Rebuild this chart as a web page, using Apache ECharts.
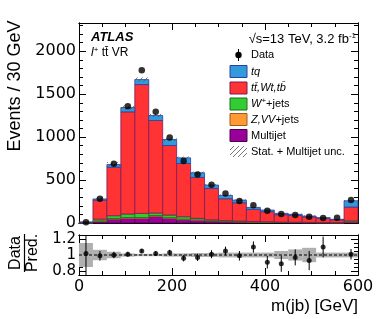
<!DOCTYPE html>
<html><head><meta charset="utf-8">
<script src="https://cdn.jsdelivr.net/npm/echarts@6/dist/echarts.min.js"></script>
<style>html,body{margin:0;padding:0;background:#fff}#c{width:378px;height:319px}</style>
</head><body><div id="c"></div>
<script>
// ---- data ----
const binEdges = [0,30,60,90,120,150,180,210,240,270,300,330,360,390,420,450,480,510,540,570,600];
const multijet = [2,20,45,54,54,77,54,38,31,23,15,12,10,8,6,5,4,3,2,12];
const zvvJets  = [0,5,8,10,10,10,8,7,5,4,3,3,2,2,1,1,1,1,1,3];
const wJets    = [2,20,32,41,48,29,31,28,18,11,10,8,6,5,4,3,3,2,2,10];
const ttbar    = [5,220,565,1190,1501,1078,810,621,477,365,255,213,141,117,86,80,63,48,32,161];
const tq       = [0,15,32,50,58,58,70,65,54,39,39,31,23,19,15,12,10,8,6,73];
const dataEv   = [8,282,690,1360,1779,1295,996,721,566,445,345,256,206,143,105,93,73,58,62,267];
const ratio    = [1.02,0.99,1.0,1.01,1.05,1.02,1.03,0.96,0.97,1.01,1.05,0.99,1.10,0.91,0.89,0.97,0.93,1.10,null,1.01];
const ratioErr = [0.5,0.06,0.04,0.03,0.025,0.03,0.035,0.04,0.045,0.05,0.055,0.06,0.07,0.08,0.1,0.1,0.12,0.13,null,0.065];
const uncBand  = [0.15,0.065,0.04,0.02,0.015,0.015,0.02,0.02,0.025,0.025,0.03,0.03,0.03,0.03,0.05,0.07,0.09,0.03,0.03,0.03];
const xTicks = [0,200,400,600];
const yTicks = [0,500,1000,1500,2000];
const rTicks = [0.8,1,1.2];

const FONT = 'Liberation Sans';
const TFONT = 'DejaVu Sans';
const comps = [
  {vals: multijet, fill:'#990099', stroke:'#4d004d'},
  {vals: zvvJets,  fill:'#ff9933', stroke:'#a05a1a'},
  {vals: wJets,    fill:'#33cc33', stroke:'#1a6e1a'},
  {vals: ttbar,    fill:'#ff3333', stroke:'#7a1a5a'},
  {vals: tq,       fill:'#3399dd', stroke:'#2a3fa0'}
];

const pc = document.createElement('canvas'); pc.width = 5; pc.height = 5;
const pctx = pc.getContext('2d');
pctx.strokeStyle = '#555'; pctx.lineWidth = 0.8;
pctx.beginPath(); pctx.moveTo(-1,6); pctx.lineTo(6,-1); pctx.stroke();
const hatch = {image: pc, repeat: 'repeat'};

const rectItem = (fillFn) => (p, api) => {
  const a = api.coord([api.value(0), api.value(3)]);
  const b = api.coord([api.value(1), api.value(2)]);
  return {type:'rect', shape:{x:a[0], y:a[1], width:b[0]-a[0], height:b[1]-a[1]}, style:fillFn()};
};

const nb = binEdges.length - 1;
const cum = new Array(nb).fill(0);
const series = [];
comps.forEach(c => {
  const items = [];
  for (let i = 0; i < nb; i++) {
    const lo = cum[i]; const hi = lo + c.vals[i]; cum[i] = hi;
    items.push([binEdges[i], binEdges[i+1], lo, hi]);
  }
  series.push({
    type:'custom', xAxisIndex:0, yAxisIndex:0, data: items, encode:{x:[0,1], y:[2,3]}, z:2,
    renderItem: rectItem(() => ({fill:c.fill, stroke:c.stroke, lineWidth:0.8}))
  });
});
series.push({
  type:'custom', xAxisIndex:0, yAxisIndex:0, z:3,
  data: cum.map((t,i) => [binEdges[i], binEdges[i+1], t*(1-uncBand[i]), t*(1+uncBand[i])]),
  encode:{x:[0,1], y:[2,3]},
  renderItem: rectItem(() => ({fill:hatch}))
});
const centers = [];
for (let i = 0; i < nb; i++) centers.push((binEdges[i]+binEdges[i+1])/2);
series.push({
  type:'scatter', xAxisIndex:0, yAxisIndex:0, z:5, symbol:'circle', symbolSize:6.5,
  itemStyle:{color:'#000'}, data: dataEv.map((v,i)=>[centers[i], v])
});
series.push({
  type:'custom', xAxisIndex:2, yAxisIndex:2, z:2,
  data: uncBand.map((u,i)=>[binEdges[i], binEdges[i+1], 1-u, 1+u]),
  encode:{x:[0,1], y:[2,3]},
  renderItem: rectItem(() => ({fill:'#b0b0b0'}))
});
series.push({
  type:'line', xAxisIndex:2, yAxisIndex:2, z:3, symbol:'none', silent:true,
  data:[[0,1],[600,1]], lineStyle:{color:'#000', width:1, type:[3,2]}
});
const rItems = [];
ratio.forEach((r,i)=>{ if (r !== null) rItems.push([centers[i], r, ratioErr[i]]); });
series.push({
  type:'custom', xAxisIndex:2, yAxisIndex:2, z:4, data:rItems, encode:{x:0, y:1},
  renderItem:(p, api) => {
    const x = api.value(0), y = api.value(1), e = api.value(2);
    const a = api.coord([x, Math.min(y+e, 1.25)]);
    const b = api.coord([x, Math.max(y-e, 0.75)]);
    return {type:'line', shape:{x1:a[0], y1:a[1], x2:b[0], y2:b[1]}, style:{stroke:'#000', lineWidth:1}};
  }
});
series.push({
  type:'scatter', xAxisIndex:2, yAxisIndex:2, z:5, symbolSize:5, itemStyle:{color:'#000'},
  data: rItems.map(d=>[d[0], d[1]])
});

const tick = (len, extra) => Object.assign({show:true, inside:true, length:len, lineStyle:{color:'#000', width:1}}, extra||{});
function axis(extra) {
  return Object.assign({
    type:'value', splitLine:{show:false},
    axisLine:{show:true, onZero:false, lineStyle:{color:'#000', width:1}},
    axisTick:tick(7),
    axisLabel:{show:false}
  }, extra);
}
function minorAxis(extra) {
  return Object.assign({
    type:'value', splitLine:{show:false},
    axisLine:{show:true, onZero:false, lineStyle:{color:'#000', width:1}},
    axisTick:tick(4), axisLabel:{show:false}
  }, extra);
}
const lbl = (fmt, size, margin, extra) => Object.assign({show:true, color:'#000', fontFamily:TFONT, fontSize:size, margin:margin, formatter:fmt, hideOverlap:false}, extra||{});
const xFmt = v => xTicks.includes(v) ? String(v) : '';
const yFmt = v => yTicks.includes(v) ? String(v) : '';
const rFmt = v => { for (const t of rTicks) if (Math.abs(v-t)<1e-6) return String(t); return ''; };

const G0 = {left:79, top:23, width:279, height:200};
const G1 = {left:79, top:235, width:279, height:40};
const xAxes = [
  axis({gridIndex:0, position:'bottom', min:0, max:600, interval:200}),
  axis({gridIndex:0, position:'top', min:0, max:600, interval:200}),
  axis({gridIndex:1, position:'bottom', min:0, max:600, interval:200, axisLabel:lbl(xFmt, 16, 4)}),
  axis({gridIndex:1, position:'top', min:0, max:600, interval:200}),
  minorAxis({gridIndex:2, position:'bottom', min:0, max:600, interval:50}),
  minorAxis({gridIndex:2, position:'top', min:0, max:600, interval:50}),
  minorAxis({gridIndex:3, position:'bottom', min:0, max:600, interval:50}),
  minorAxis({gridIndex:3, position:'top', min:0, max:600, interval:50})
];
const yAxes = [
  axis({gridIndex:0, position:'left', min:0, max:2330, interval:500, axisLabel:lbl(yFmt, 16, 3)}),
  axis({gridIndex:0, position:'right', min:0, max:2330, interval:500}),
  axis({gridIndex:1, position:'left', min:0.75, max:1.25, interval:0.05,
        axisTick:tick(7, {customValues:rTicks}), axisLabel:lbl(rFmt, 15, 3, {customValues:rTicks})}),
  axis({gridIndex:1, position:'right', min:0.75, max:1.25, interval:0.05, axisTick:tick(7, {customValues:rTicks})}),
  minorAxis({gridIndex:2, position:'left', min:0, max:2330, interval:100}),
  minorAxis({gridIndex:2, position:'right', min:0, max:2330, interval:100}),
  minorAxis({gridIndex:3, position:'left', min:0.75, max:1.25, interval:0.05}),
  minorAxis({gridIndex:3, position:'right', min:0.75, max:1.25, interval:0.05})
];

const T = (x, y, text, font, align) => ({
  type:'text', x:x, y:y, silent:true,
  style:{text:text, fill:'#000', font:font, align:align||'left', verticalAlign:'middle'}
});
const rich = {
  i:{fontStyle:'italic', fontSize:11, fontFamily:FONT},
  sup:{fontSize:8, fontFamily:FONT, padding:[0,0,6,0]}
};
const legendRows = [
  {y:71.5, c:comps[4], t:'{i|tq}'},
  {y:88, c:comps[3], t:'{i|tt\u0304,Wt,tb\u0304}'},
  {y:104, c:comps[2], t:'{i|W}{sup|+}+jets'},
  {y:119.5, c:comps[1], t:'{i|Z,VV}+jets'},
  {y:135.5, c:comps[0], t:'Multijet'}
];
const graphics = [];
legendRows.forEach(r => {
  graphics.push({type:'rect', silent:true, shape:{x:230, y:r.y-6, width:17, height:12}, style:{fill:r.c.fill, stroke:r.c.stroke, lineWidth:1}});
  graphics.push({type:'text', x:251, y:r.y, silent:true, style:{text:r.t, rich:rich, fill:'#000', font:'11px '+FONT, align:'left', verticalAlign:'middle'}});
});
graphics.push({type:'rect', silent:true, shape:{x:230, y:146, width:17, height:11}, style:{fill:hatch}});
graphics.push(T(251, 152, 'Stat. + Multijet unc.', '11px '+FONT));
graphics.push({type:'circle', silent:true, shape:{cx:238.5, cy:55, r:3.2}, style:{fill:'#000'}});
graphics.push({type:'line', silent:true, shape:{x1:238.5, y1:49, x2:238.5, y2:61}, style:{stroke:'#000', lineWidth:1}});
graphics.push(T(251, 55, 'Data', '11px '+FONT));
graphics.push({type:'text', x:356, y:39, silent:true, style:{text:'\u221As=13 TeV, 3.2 fb{sup|-1}', rich:{sup:{fontSize:8, fontFamily:FONT, padding:[0,0,6,0]}}, fill:'#000', font:'13px '+FONT, align:'right', verticalAlign:'middle'}});
graphics.push(T(91, 37, 'ATLAS', 'italic bold 13px '+FONT));
graphics.push({type:'text', x:91, y:53, silent:true, style:{text:'{i|l}{sup|+} tt\u0304 VR', rich:{i:{fontStyle:'italic', fontSize:12, fontFamily:FONT}, sup:{fontSize:8, fontFamily:FONT, padding:[0,0,6,0]}}, fill:'#000', font:'12px '+FONT, align:'left', verticalAlign:'middle'}});
graphics.push(Object.assign(T(15, 86, 'Events / 30 GeV', '18px '+FONT, 'center'), {rotation:Math.PI/2}));
graphics.push(T(358, 306, 'm(jb) [GeV]', '17px '+FONT, 'right'));
graphics.push(Object.assign(T(16, 253, 'Data', '16px '+FONT, 'center'), {rotation:Math.PI/2}));
graphics.push({type:'line', silent:true, shape:{x1:24.5, y1:234, x2:24.5, y2:272}, style:{stroke:'#000', lineWidth:1.2}});
graphics.push(Object.assign(T(33, 253, 'Pred.', '16px '+FONT, 'center'), {rotation:Math.PI/2}));

const chart = echarts.init(document.getElementById('c'), null, {renderer:'canvas'});
chart.setOption({
  animation:false, backgroundColor:'#fff',
  grid:[G0, G1, G0, G1],
  xAxis:xAxes, yAxis:yAxes, series:series, graphic:graphics
});
</script></body></html>
